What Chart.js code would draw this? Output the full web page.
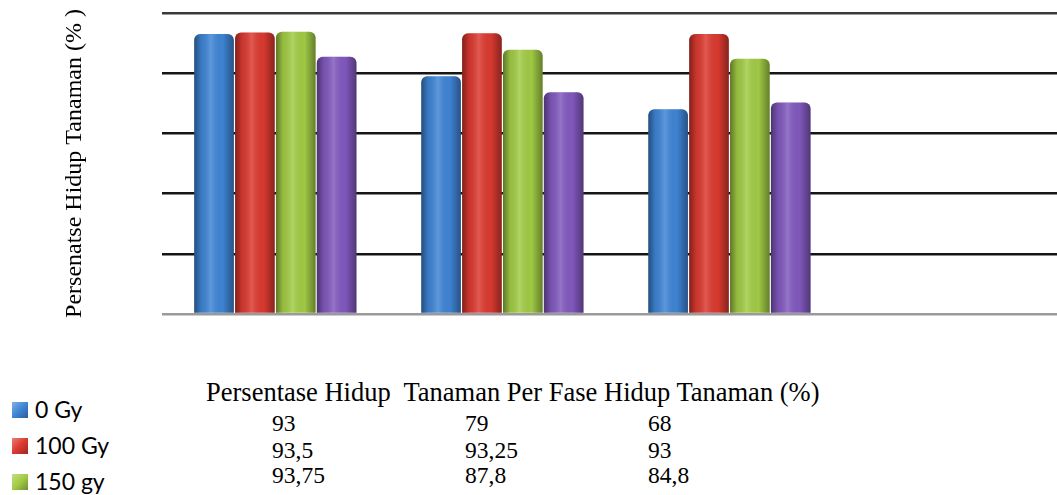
<!DOCTYPE html>
<html>
<head>
<meta charset="utf-8">
<script src="https://cdn.jsdelivr.net/npm/chart.js@4"></script>
<style>
  html, body { margin: 0; padding: 0; background: #fff; overflow: hidden; }
  body { width: 1057px; height: 495px; position: relative; }
  #wrap { position: absolute; left: 0; top: 0; width: 1072px; height: 330px; }
  #legend { position: absolute; left: 12px; top: 391px; font-family: Lato, sans-serif; font-size: 23px; line-height: 36px; color: #000; }
  #legend .item { position: relative; padding-left: 23px; white-space: nowrap; }
  #legend .box { position: absolute; left: 0; top: 11px; width: 16px; height: 16px; }
  #table { font-family: "Liberation Serif", serif; color: #000; }
  #table div { position: absolute; line-height: 30px; white-space: pre; font-family: "Liberation Serif", serif; }
</style>
</head>
<body>
<div id="wrap"><canvas id="chart"></canvas></div>
<div id="legend"></div>
<div id="table"></div>
<script>
// categories (the 4th slot is empty in the original chart)
const categories = ['1', '2', '3', ''];
const seriesNames = ['0 Gy', '100 Gy', '150 gy', '200 Gy'];
const gy0 = [93, 79, 68];
const gy100 = [93.5, 93.25, 93];
const gy150 = [93.75, 87.8, 84.8];
const gy200 = [85.5, 73.7, 70.3]; // row not visible in the table
const seriesColors = ['#3f85d6', '#dc3a30', '#a2cc45', '#8259bf'];
const yTicks = { min: 0, max: 100, step: 20 };
const axisTitle = 'Persenatse Hidup Tanaman (% )';
const tableHeader = 'Persentase Hidup  Tanaman Per Fase Hidup Tanaman (%)';

const seriesValues = [gy0, gy100, gy150, gy200];

// cylinder-ish shading on top of each bar
const shadePlugin = {
  id: 'shade',
  afterDatasetsDraw(chart) {
    const ctx = chart.ctx;
    chart.data.datasets.forEach((ds, i) => {
      chart.getDatasetMeta(i).data.forEach(bar => {
        const p = bar.getProps(['x', 'y', 'base', 'width']);
        const left = p.x - p.width / 2;
        const g = ctx.createLinearGradient(left, 0, left + p.width, 0);
        g.addColorStop(0, 'rgba(0,0,0,0.42)');
        g.addColorStop(0.18, 'rgba(0,0,0,0.08)');
        g.addColorStop(0.42, 'rgba(255,255,255,0.16)');
        g.addColorStop(0.72, 'rgba(0,0,0,0.02)');
        g.addColorStop(1, 'rgba(0,0,0,0.38)');
        ctx.save();
        ctx.fillStyle = g;
        ctx.beginPath();
        ctx.roundRect(left, p.y, p.width, p.base - p.y, [6, 6, 0, 0]);
        ctx.fill();
        ctx.restore();
      });
    });
  }
};

new Chart(document.getElementById('chart'), {
  type: 'bar',
  data: {
    labels: categories,
    datasets: seriesValues.map((vals, i) => ({
      label: seriesNames[i],
      data: vals,
      backgroundColor: seriesColors[i],
      borderWidth: 0,
      borderRadius: { topLeft: 6, topRight: 6, bottomLeft: 0, bottomRight: 0 },
      borderSkipped: 'start',
      barPercentage: 0.97,
      categoryPercentage: 0.72
    }))
  },
  options: {
    responsive: true,
    maintainAspectRatio: false,
    animation: false,
    layout: { padding: { top: 13, bottom: 8, left: 0, right: 2 } },
    plugins: { legend: { display: false }, tooltip: { enabled: false } },
    scales: {
      x: {
        ticks: { display: false },
        grid: { display: false },
        border: { display: false }
      },
      y: {
        min: yTicks.min,
        max: yTicks.max,
        ticks: { display: false, stepSize: yTicks.step },
        grid: {
          drawTicks: false,
          lineWidth: 2.5,
          color: c => c.tick.value === 0 ? '#9a9a9a' : (c.tick.value === 100 ? '#3a3a3a' : '#151515')
        },
        border: { display: false },
        title: {
          display: true,
          text: axisTitle,
          color: '#000',
          font: { family: 'Liberation Serif', size: 24 },
          padding: { top: 60, bottom: 73 }
        }
      }
    }
  },
  plugins: [shadePlugin]
});

// legend
const legend = document.getElementById('legend');
seriesNames.forEach((name, i) => {
  const item = document.createElement('div');
  item.className = 'item';
  const box = document.createElement('span');
  box.className = 'box';
  box.style.background = 'linear-gradient(135deg, rgba(255,255,255,0.35), rgba(0,0,0,0) 50%, rgba(0,0,0,0.3)), ' + seriesColors[i];
  item.appendChild(box);
  item.appendChild(document.createTextNode(name));
  legend.appendChild(item);
});

// data table under the chart
const table = document.getElementById('table');
function cell(text, x, top, size) {
  const d = document.createElement('div');
  d.textContent = text;
  d.style.left = x + 'px';
  d.style.top = top + 'px';
  d.style.fontSize = size + 'px';
  table.appendChild(d);
}
cell(tableHeader, 206, 377, 26.5);
const colX = [272, 465, 648];
const rowTop = [408, 435, 460];
[gy0, gy100, gy150].forEach((vals, r) => {
  vals.forEach((v, c) => cell(String(v).replace('.', ','), colX[c], rowTop[r], 23.5));
});
</script>
</body>
</html>
